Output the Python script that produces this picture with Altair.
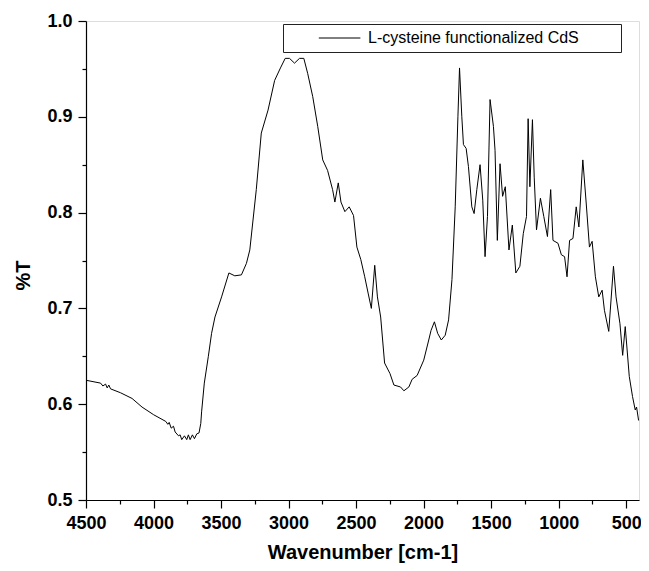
import altair as alt
import pandas as pd

# Wavenumber (cm-1)
wavenumber = [
    4500, 4392, 4375, 4355, 4343, 4331, 4318, 4245, 4159, 4085, 3999,
    3909, 3894, 3884, 3869, 3852, 3840, 3815, 3803, 3791, 3771, 3754,
    3742, 3729, 3712, 3697, 3680, 3663, 3650, 3644, 3624, 3594, 3570,
    3545, 3496, 3442, 3398, 3349, 3312, 3287, 3239, 3202, 3152, 3103,
    3060, 3025, 2993, 2956, 2919, 2887, 2858, 2821, 2784, 2747, 2711,
    2674, 2657, 2632, 2612, 2583, 2551, 2519, 2494, 2465, 2436, 2411,
    2387, 2362, 2342, 2318, 2289, 2249, 2220, 2171, 2146, 2109, 2085,
    2048, 1999, 1962, 1945, 1920, 1896, 1869, 1840, 1815, 1790, 1766,
    1746, 1734, 1717, 1705, 1685, 1668, 1643, 1626, 1606, 1582, 1562,
    1545, 1527, 1508, 1483, 1471, 1454, 1434, 1415, 1395, 1368, 1343,
    1317, 1287, 1262, 1238, 1226, 1213, 1194, 1181, 1164, 1135, 1110,
    1083, 1059, 1042, 1005, 980, 956, 938, 919, 894, 870, 850, 821,
    796, 772, 752, 728, 703, 678, 661, 629, 594, 575, 546, 526, 507,
    477, 453, 433, 423, 408,
]
# Transmittance values
transmittance = [
    0.625, 0.622, 0.619, 0.621, 0.617, 0.620, 0.616, 0.612, 0.606, 0.597, 0.589,
    0.582, 0.579, 0.581, 0.575, 0.577, 0.571, 0.567, 0.568, 0.563, 0.567, 0.563,
    0.568, 0.563, 0.568, 0.564, 0.569, 0.570, 0.580, 0.592, 0.622, 0.650, 0.674,
    0.691, 0.712, 0.737, 0.734, 0.735, 0.747, 0.761, 0.824, 0.883, 0.907, 0.938,
    0.951, 0.961, 0.961, 0.956, 0.961, 0.961, 0.945, 0.921, 0.890, 0.855, 0.844,
    0.824, 0.811, 0.831, 0.811, 0.801, 0.806, 0.797, 0.764, 0.751, 0.733, 0.716,
    0.700, 0.745, 0.712, 0.691, 0.643, 0.632, 0.620, 0.618, 0.614, 0.618, 0.626,
    0.630, 0.646, 0.667, 0.677, 0.686, 0.674, 0.667, 0.672, 0.688, 0.730, 0.806,
    0.900, 0.951, 0.900, 0.871, 0.867, 0.848, 0.806, 0.799, 0.824, 0.850, 0.813,
    0.754, 0.796, 0.918, 0.890, 0.865, 0.771, 0.851, 0.817, 0.827, 0.761, 0.787,
    0.737, 0.744, 0.778, 0.796, 0.898, 0.827, 0.897, 0.837, 0.782, 0.815, 0.796,
    0.775, 0.824, 0.771, 0.768, 0.756, 0.754, 0.733, 0.771, 0.773, 0.806, 0.785, 0.855,
    0.810, 0.764, 0.770, 0.733, 0.712, 0.719, 0.698, 0.676, 0.744, 0.712, 0.684, 0.651, 0.681,
    0.629, 0.608, 0.594, 0.597, 0.583,
]
series_name = "L-cysteine functionalized CdS"

x_major = [4500, 4000, 3500, 3000, 2500, 2000, 1500, 1000, 500]
x_minor = [4250, 3750, 3250, 2750, 2250, 1750, 1250, 750]
y_major = [0.5, 0.6, 0.7, 0.8, 0.9, 1.0]
y_minor = [0.55, 0.65, 0.75, 0.85, 0.95]

df = pd.DataFrame({"wn": wavenumber, "t": transmittance, "series": series_name})

FONT = "Liberation Sans"

xscale = alt.Scale(domain=[405, 4500], reverse=True, nice=False, zero=False)
yscale = alt.Scale(domain=[0.5, 1.0], nice=False, zero=False)

main = alt.Chart(df).mark_line(color="black", strokeWidth=1).encode(
    x=alt.X("wn:Q", scale=xscale, axis=alt.Axis(
        orient="bottom", values=x_major, format="d", grid=False,
        labelFont=FONT, labelFontSize=18, labelFontWeight="bold", labelColor="black",
        labelPadding=6, labelFlush=False, labelOverlap=False,
        tickSize=8, tickColor="black", tickWidth=1.2,
        domainColor="black", domainWidth=1.2,
        title="Wavenumber [cm-1]", titleFont=FONT, titleFontSize=20,
        titleFontWeight="bold", titleColor="black",
        titleY=52, titleBaseline="middle")),
    y=alt.Y("t:Q", scale=yscale, axis=alt.Axis(
        orient="left", values=y_major, format=".1f", grid=False,
        labelFont=FONT, labelFontSize=18, labelFontWeight="bold", labelColor="black",
        labelPadding=6, labelFlush=False, labelOverlap=False,
        tickSize=8, tickColor="black", tickWidth=1.2,
        domainColor="black", domainWidth=1.2,
        title="%T", titleFont=FONT, titleFontSize=20, titleFontWeight="bold",
        titleColor="black", titleX=-63, titleY=254, titleAngle=270,
        titleAlign="center", titleBaseline="middle")),
    stroke=alt.Stroke("series:N", scale=alt.Scale(range=["black"]), legend=alt.Legend(
        orient="none", legendX=197, legendY=3, title=None,
        strokeColor="#222", fillColor="white", padding=6, cornerRadius=0,
        symbolType="M-4,0H4", symbolSize=108, symbolStrokeWidth=1,
        symbolOffset=42.6, labelOffset=20.4,
        labelFont=FONT, labelFontSize=16, labelColor="black", labelLimit=400,
        labelExpr="datum.label + '\u2800\u2800\u2800'")),
)

minor = alt.Chart(df).mark_line(strokeOpacity=0).encode(
    x=alt.X("wn:Q", scale=xscale, axis=alt.Axis(
        orient="bottom", values=x_minor, labels=False, grid=False, domain=False,
        tickSize=4, tickColor="black", tickWidth=1.2, title=None)),
    y=alt.Y("t:Q", scale=yscale, axis=alt.Axis(
        orient="left", values=y_minor, labels=False, grid=False, domain=False,
        tickSize=4, tickColor="black", tickWidth=1.2, title=None)),
)

chart = alt.layer(main, minor).resolve_axis(x="independent", y="independent").properties(
    width=553, height=479,
    padding={"left": 78, "top": 13, "right": 2, "bottom": 63},
    autosize=alt.AutoSizeParams(type="none"),
).configure_view(stroke=None).configure(background="white")

chart.save("out.html", embed_options={"renderer": "svg", "actions": False})
